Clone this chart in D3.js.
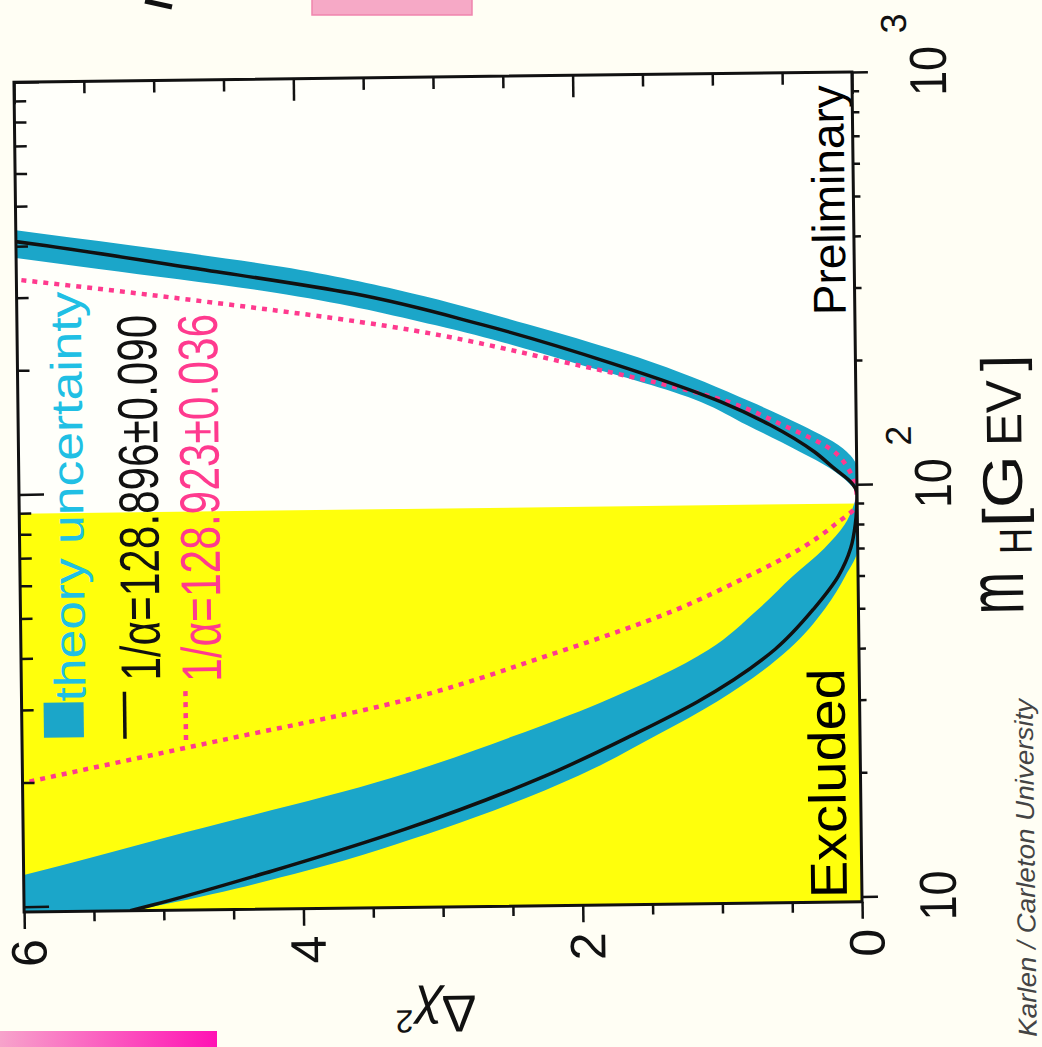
<!DOCTYPE html>
<html>
<head>
<meta charset="utf-8">
<script src="https://cdn.jsdelivr.net/npm/d3@7"></script>
<style>
  html, body { margin: 0; padding: 0; background: #fffef4; }
  svg { display: block; }
  text { font-family: "Liberation Sans", Arial, Helvetica, sans-serif; }
</style>
</head>
<body>
<svg id="chart" width="1042" height="1047"></svg>
<script>
// Higgs mass grid (GeV) and the delta chi2 curves
const massGrid  = [9.7, 10, 12, 15, 20, 25, 30, 40, 50, 60, 70, 80, 90, 95, 100, 110, 120, 140, 160, 200, 250, 300, 350, 400, 450, 500];
const blackChi2 = [5.24, 5.08, 4.22, 3.27, 2.26, 1.63, 1.16, 0.60, 0.32, 0.14, 0.05, 0.015, 0.002, 0, 0.03, 0.17, 0.30, 0.615, 0.97, 1.75, 2.67, 3.59, 4.74, 5.78, 6.8, 7.7];
const pinkChi2  = [10.5, 10.2, 9.0, 7.7, 5.98, 4.57, 3.41, 2.15, 1.32, 0.80, 0.41, 0.16, 0.0, 0.003, 0.015, 0.067, 0.16, 0.53, 0.92, 2.04, 3.36, 4.98, 6.53, 7.8, 9.0, 10.0];
const bandLow   = [5.24, 5.02, 3.97, 3.0, 2.02, 1.45, 1.02, 0.50, 0.24, 0.09, 0, 0, 0, 0, 0, 0, 0.07, 0.40, 0.76, 1.45, 2.35, 3.18, 4.10, 5.21, 6.25, 7.1];
const bandHigh  = [7.4, 7.0, 5.97, 4.83, 3.36, 2.49, 1.86, 1.08, 0.72, 0.47, 0.24, 0.09, 0.02, 0, 0.05, 0.2, 0.40, 0.78, 1.11, 2.0, 3.0, 4.07, 5.41, 6.6, 7.8, 9.0];
const excludedBelow = 89.8;

const chi2Ticks  = [0, 0.5, 1, 1.5, 2, 2.5, 3, 3.5, 4, 4.5, 5, 5.5, 6];
const chi2Labels = [0, 2, 4, 6];
const massTicks  = [10, 20, 30, 40, 50, 60, 70, 80, 90, 100, 200, 300, 400, 500, 600, 700, 800, 900, 1000];
const massLabels = [10, 100, 1000];
const massSups   = ["", "2", "3"];

const legendLabels = ["theory uncertainty", "1/\u03b1=128.896\u00b10.090", "1/\u03b1=128.923\u00b10.036"];

const cyan = "#1ba6c9", cyanText = "#20bfe4", pink = "#ff3a8e", yellow = "#ffff0c";

const svg = d3.select("#chart");

// pieces of the slide around the photographed plot
const defs = svg.append("defs");
const grad = defs.append("linearGradient").attr("id", "pinkbar");
grad.append("stop").attr("offset", "0%").attr("stop-color", "#f7a3cb");
grad.append("stop").attr("offset", "100%").attr("stop-color", "#ff12b4");
svg.append("rect").attr("x", 0).attr("y", 1031).attr("width", 217).attr("height", 16).attr("fill", "url(#pinkbar)");
svg.append("rect").attr("x", 312).attr("y", -2).attr("width", 160).attr("height", 17)
  .attr("fill", "#f6a9c6").attr("stroke", "#ef85ad").attr("stroke-width", 1.5);
svg.append("line").attr("x1", 145).attr("y1", 1).attr("x2", 172).attr("y2", 7)
  .attr("stroke", "#111").attr("stroke-width", 5);

// the whole plot sits slightly tilted in the photo
const g = svg.append("g").attr("transform", "rotate(-0.7,438,492)");

const x = d3.scaleLinear().domain([0, 6]).range([857, 19]);
const y = d3.scaleLog().domain([9.7, 1000]).range([907, 77]);

defs.append("clipPath").attr("id", "plotclip").append("rect")
  .attr("x", x(6)).attr("y", y(1000)).attr("width", x(0) - x(6)).attr("height", y(9.7) - y(1000));

g.append("rect").attr("x", x(6)).attr("y", y(1000)).attr("width", x(0) - x(6)).attr("height", y(9.7) - y(1000))
  .attr("fill", "#fffffa");

const plot = g.append("g").attr("clip-path", "url(#plotclip)");

// excluded region
plot.append("rect")
  .attr("x", x(6)).attr("y", y(excludedBelow))
  .attr("width", x(0) - x(6)).attr("height", y(9.7) - y(excludedBelow))
  .attr("fill", yellow);

const rows = massGrid.map((m, i) => ({ m: m, lo: bandLow[i], hi: bandHigh[i], b: blackChi2[i], p: pinkChi2[i] }));

const band = d3.area()
  .y(d => y(d.m))
  .x0(d => x(d.lo))
  .x1(d => x(d.hi))
  .curve(d3.curveMonotoneY);

plot.append("path").datum(rows).attr("d", band).attr("fill", cyan);

const blackLine = d3.line().x(d => x(d.b)).y(d => y(d.m)).curve(d3.curveMonotoneY);
const pinkLine = d3.line().x(d => x(d.p)).y(d => y(d.m)).curve(d3.curveMonotoneY);

plot.append("path").datum(rows).attr("d", pinkLine)
  .attr("fill", "none").attr("stroke", pink).attr("stroke-width", 4.5).attr("stroke-dasharray", "5,6");
plot.append("path").datum(rows).attr("d", blackLine)
  .attr("fill", "none").attr("stroke", "#111").attr("stroke-width", 3.5);

// helper for text that reads bottom to top
function vtext(parent, tx, ty, str, size, len, anchor) {
  const t = parent.append("text")
    .attr("transform", `translate(${tx},${ty}) rotate(-90)`)
    .attr("font-size", size)
    .attr("text-anchor", anchor || "start")
    .text(str);
  if (len) t.attr("textLength", len).attr("lengthAdjust", "spacingAndGlyphs");
  return t;
}

vtext(g, 842, 903, "Excluded", 52, 230);
vtext(g, 848, 320, "Preliminary", 46, 230);

// legend
g.append("rect").attr("x", 41).attr("y", 698).attr("width", 40).attr("height", 35).attr("fill", cyan);
vtext(g, 83, 697, legendLabels[0], 44, 410).attr("fill", cyanText);
g.append("line").attr("x1", 122).attr("x2", 122).attr("y1", 688).attr("y2", 735)
  .attr("stroke", "#111").attr("stroke-width", 3.5);
vtext(g, 158, 677, legendLabels[1], 56, 366).attr("fill", "#111");
g.append("line").attr("x1", 183).attr("x2", 183).attr("y1", 688).attr("y2", 738)
  .attr("stroke", pink).attr("stroke-width", 4.5).attr("stroke-dasharray", "5,6");
vtext(g, 219, 679, legendLabels[2], 56, 368).attr("fill", pink);

// frame and ticks
g.append("rect").attr("x", x(6)).attr("y", y(1000)).attr("width", x(0) - x(6)).attr("height", y(9.7) - y(1000))
  .attr("fill", "none").attr("stroke", "#111").attr("stroke-width", 3);

function tickAxis(axis, tf) {
  const a = g.append("g").attr("transform", tf).call(axis);
  a.select(".domain").remove();
  a.selectAll("line").attr("stroke", "#111").attr("stroke-width", 2.5);
  a.selectAll("text").remove();
}
const major = v => v % 2 === 0;
const majorM = v => [10, 100, 1000].includes(v);

tickAxis(d3.axisBottom(x).tickValues(chi2Ticks.filter(v => !major(v))).tickSize(10), `translate(0,${y(9.7)})`);
tickAxis(d3.axisBottom(x).tickValues(chi2Ticks.filter(major)).tickSize(17), `translate(0,${y(9.7)})`);
tickAxis(d3.axisTop(x).tickValues(chi2Ticks.filter(v => !major(v))).tickSize(-12), `translate(0,${y(1000)})`);
tickAxis(d3.axisTop(x).tickValues(chi2Ticks.filter(major)).tickSize(-22), `translate(0,${y(1000)})`);
tickAxis(d3.axisRight(y).tickValues(massTicks.filter(v => !majorM(v))).tickSize(7), `translate(${x(0)},0)`);
tickAxis(d3.axisRight(y).tickValues(massTicks.filter(majorM)).tickSize(16), `translate(${x(0)},0)`);
tickAxis(d3.axisLeft(y).tickValues(massTicks.filter(v => !majorM(v))).tickSize(-12), `translate(${x(6)},0)`);
tickAxis(d3.axisLeft(y).tickValues(massTicks.filter(majorM)).tickSize(-25), `translate(${x(6)},0)`);

// tick labels
g.selectAll(".chi2lab").data(chi2Labels).enter().append("text")
  .attr("class", "chi2lab")
  .attr("transform", d => `translate(${x(d) + 5},948) rotate(-90)`)
  .attr("text-anchor", "middle").attr("dominant-baseline", "central")
  .attr("font-size", 50).attr("fill", "#111")
  .text(d => d);

g.selectAll(".mlab").data(massLabels).enter().append("text")
  .attr("class", "mlab")
  .attr("transform", d => `translate(933,${y(d)}) rotate(-90)`)
  .attr("text-anchor", "middle").attr("dominant-baseline", "central")
  .attr("font-size", 52).attr("fill", "#111")
  .attr("textLength", 50).attr("lengthAdjust", "spacingAndGlyphs")
  .text("10");

g.selectAll(".msup").data(massLabels).enter().append("text")
  .attr("class", "msup")
  .attr("transform", d => `translate(899,${y(d) - 48}) rotate(-90)`)
  .attr("text-anchor", "middle").attr("dominant-baseline", "central")
  .attr("font-size", 36).attr("fill", "#111")
  .text((d, i) => massSups[i]);

// axis titles
vtext(g, 1022, 600, "m", 80, 42, "middle").attr("fill", "#111");
vtext(g, 1031, 548, "H", 46, 26, "middle").attr("fill", "#111");
vtext(g, 1022, 498, "[G", 56, 72, "middle").attr("fill", "#111");
vtext(g, 1022, 420, "EV", 50, 66, "middle").attr("fill", "#111");
vtext(g, 1022, 370, "]", 56, 16, "middle").attr("fill", "#111");

const yt = g.append("text")
  .attr("transform", "translate(470,996) rotate(180)")
  .attr("font-size", 52).attr("fill", "#111");
yt.append("tspan").text("\u0394");
yt.append("tspan").attr("font-style", "italic").text("\u03c7");
yt.append("tspan").attr("font-size", 32).attr("dy", -14).text("2");

vtext(g, 1030, 1044, "Karlen / Carleton University", 26, 338).attr("font-style", "italic").attr("fill", "#444");
</script>
</body>
</html>
